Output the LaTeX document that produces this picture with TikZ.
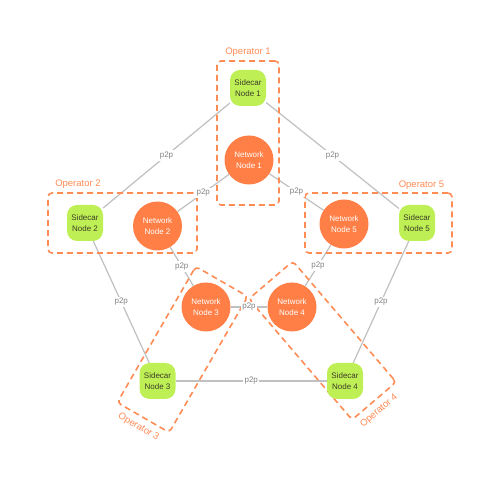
\documentclass[tikz,border=0pt]{standalone}
\usepackage{fontspec}
\setmainfont{Liberation Sans}
\usetikzlibrary{calc}
\pgfdeclarelayer{bg}
\pgfsetlayers{bg,main}
\definecolor{lime}{RGB}{190,240,85}
\definecolor{orng}{RGB}{255,127,70}
\definecolor{dashc}{RGB}{255,140,85}
\definecolor{edgec}{RGB}{192,192,192}
\definecolor{labc}{RGB}{130,130,130}
\definecolor{sidetext}{RGB}{60,60,40}
\begin{document}
\begin{tikzpicture}[x=1pt,y=1pt,
 sidecar/.style={rectangle, rounded corners=10pt, minimum size=36pt, inner sep=0pt, fill=lime, text=sidetext, align=center, font=\fontsize{8}{10.5}\selectfont},
 netnode/.style={circle, minimum size=49pt, inner sep=0pt, fill=orng, text=white, align=center, font=\fontsize{8}{10.5}\selectfont},
 link/.style={draw=edgec, line width=1.2pt},
 p2p/.style={fill=white, inner sep=1.5pt, text=labc, font=\fontsize{8}{9}\selectfont},
 opbox/.style={draw=dashc, dash pattern=on 6pt off 4pt, line width=1.6pt, rounded corners=4pt, inner sep=0pt},
 oplabel/.style={text=dashc, font=\fontsize{9.5}{11}\selectfont}]
\begin{pgfonlayer}{bg}
\fill[white] (0,0) rectangle (500,492);
\end{pgfonlayer}
\useasboundingbox (0,0) rectangle (500,492);
% nodes
\node[sidecar] (S1) at (248,404) {Sidecar\\Node 1};
\node[netnode] (N1) at (249,332) {Network\\Node 1};
\node[sidecar] (S2) at (85,269) {Sidecar\\Node 2};
\node[netnode] (N2) at (157.5,266) {Network\\Node 2};
\node[netnode] (N5) at (344,268) {Network\\Node 5};
\node[sidecar] (S5) at (417,269) {Sidecar\\Node 5};
\node[netnode] (N3) at (206,185) {Network\\Node 3};
\node[netnode] (N4) at (292,185) {Network\\Node 4};
\node[sidecar] (S3) at (157.5,111) {Sidecar\\Node 3};
\node[sidecar] (S4) at (345,111) {Sidecar\\Node 4};
% edges and operator boxes behind nodes
\begin{pgfonlayer}{bg}
\foreach \a/\b in {S1/S2,S1/S5,N1/N2,N1/N5,N2/N3,N5/N4,N3/N4,S2/S3,S5/S4,S3/S4}
  \draw[link] (\a) -- (\b);
\node[opbox, minimum width=62pt, minimum height=144pt] (O1) at (248,359) {};
\node[opbox, minimum width=149pt, minimum height=60pt] (O2) at (122.5,269) {};
\node[opbox, minimum width=147pt, minimum height=60pt] (O5) at (378.5,269) {};
\node[opbox, minimum width=157pt, minimum height=60pt, rotate=60] (O3) at (182.5,142.5) {};
\node[opbox, minimum width=159pt, minimum height=58pt, rotate=-49.5] (O4) at (322.5,151.5) {};
\end{pgfonlayer}
% p2p labels
\foreach \a/\b in {S1/S2,S1/S5,N1/N2,N1/N5,N2/N3,N5/N4,N3/N4,S2/S3,S5/S4,S3/S4}
  \node[p2p] (L\a\b) at ($(\a)!0.5!(\b)$) {p2p};
% operator labels
\node[oplabel] (T1) at (248,440) {Operator 1};
\node[oplabel] (T2) at (78,308) {Operator 2};
\node[oplabel] (T5) at (421.5,307) {Operator 5};
\node[oplabel, rotate=-30] (T3) at (138.5,65) {Operator 3};
\node[oplabel, rotate=40.5] (T4) at (379,81) {Operator 4};
\end{tikzpicture}
\end{document}
